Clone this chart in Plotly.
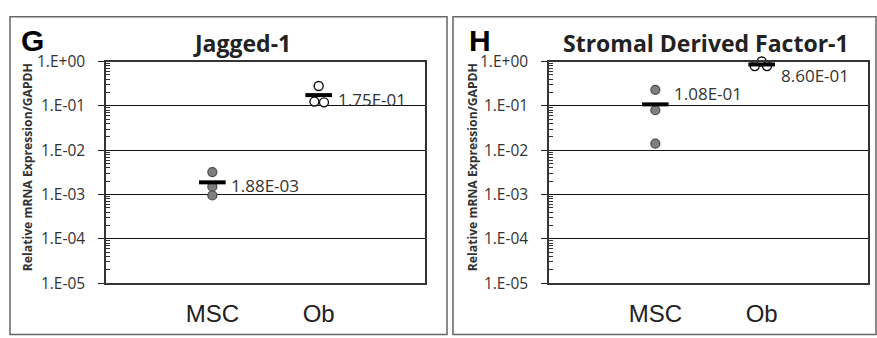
import numpy as np
import plotly.graph_objects as go

W, H = 877, 338

# ---- data ----
categories = ["MSC", "Ob"]

jag_msc = [3.2e-3, 1.5e-3, 9.5e-4]
jag_ob = [0.28, 0.125, 0.12]
jag_means = [1.88e-3, 1.75e-1]
jag_labels = ["1.88E-03", "1.75E-01"]

sdf_msc = [0.23, 0.08, 0.014]
sdf_ob = [1.0, 0.79, 0.79]
sdf_means = [1.08e-1, 8.60e-1]
sdf_labels = ["1.08E-01", "8.60E-01"]

tick_vals = [1e-5, 1e-4, 1e-3, 1e-2, 1e-1, 1e0]
tick_text = ["1.E-05", "1.E-04", "1.E-03", "1.E-02", "1.E-01", "1.E+00"]

# horizontal spread of replicate points inside a category (axis units)
jag_ob_dx = [0.0, -0.04, 0.05]
sdf_ob_dx = [0.0, -0.065, 0.05]

FONT = "Open Sans"


def px_x(p):
    return p / W


def px_y(p):
    return 1 - p / H


fig = go.Figure()

panels = [
    dict(xa="x", ya="y", msc=jag_msc, ob=jag_ob, ob_dx=jag_ob_dx,
         means=jag_means, labels=jag_labels,
         lbl_shift=[-3, -4]),
    dict(xa="x2", ya="y2", msc=sdf_msc, ob=sdf_ob, ob_dx=sdf_ob_dx,
         means=sdf_means, labels=sdf_labels,
         lbl_shift=[11, -11]),
]

for p in panels:
    # MSC replicates: filled grey
    fig.add_trace(go.Scatter(
        x=[1] * len(p["msc"]), y=p["msc"], mode="markers",
        xaxis=p["xa"], yaxis=p["ya"], cliponaxis=False,
        marker=dict(size=9, color="#7f7f7f",
                    line=dict(color="#4a4a4a", width=1.2)),
        showlegend=False))
    # Ob replicates: open circles
    fig.add_trace(go.Scatter(
        x=[2 + d for d in p["ob_dx"]], y=p["ob"], mode="markers",
        xaxis=p["xa"], yaxis=p["ya"], cliponaxis=False,
        marker=dict(size=9, color="white",
                    line=dict(color="#111111", width=1.4)),
        showlegend=False))
    # group means as short horizontal bars
    fig.add_trace(go.Scatter(
        x=[1, 2], y=p["means"], mode="markers",
        xaxis=p["xa"], yaxis=p["ya"], cliponaxis=False,
        marker=dict(symbol="line-ew", size=19,
                    line=dict(color="black", width=4)),
        showlegend=False))
    # value labels next to the means
    for i, (m, t) in enumerate(zip(p["means"], p["labels"])):
        fig.add_annotation(
            x=i + 1, y=np.log10(m), xref=p["xa"], yref=p["ya"],
            text=t, showarrow=False, xanchor="left", yanchor="middle",
            xshift=17, yshift=p["lbl_shift"][i],
            font=dict(family=FONT, size=17, color="#333333"))

y_dom = [px_y(290), px_y(53)]
minor_vals = [m * 10.0 ** e for e in range(-5, 0) for m in range(2, 10)]

yaxis_common = dict(
    type="log", range=[-5, 0], domain=y_dom,
    tickvals=tick_vals, ticktext=tick_text,
    tickfont=dict(family=FONT, size=15.5, color="#333333"),
    ticks="outside", ticklen=6, tickcolor="#222222", tickwidth=1.2,
    ticklabelstandoff=10,
    showgrid=True, gridcolor="#111111", gridwidth=1.2,
    showline=True, linecolor="#333333", linewidth=1.5, mirror=True,
    zeroline=False,
    minor=dict(tickvals=minor_vals, ticks="inside", ticklen=4,
               tickcolor="#333333", tickwidth=1, showgrid=False),
)
xaxis_common = dict(
    range=[0, 3], tickvals=[1, 2], ticktext=categories,
    tickfont=dict(family="Liberation Sans", size=24, color="#222222"),
    ticks="", showgrid=False, zeroline=False, ticklabelstandoff=8,
    showline=True, linecolor="#333333", linewidth=1.5, mirror=True,
)

fig.update_layout(
    width=W, height=H, margin=dict(l=0, r=0, t=0, b=0),
    paper_bgcolor="white", plot_bgcolor="white",
    xaxis=dict(domain=[px_x(106), px_x(425)], anchor="y", **xaxis_common),
    yaxis=dict(anchor="x", **yaxis_common),
    xaxis2=dict(domain=[px_x(549), px_x(868)], anchor="y2", **xaxis_common),
    yaxis2=dict(anchor="x2", **yaxis_common),
)

# panel frames
for x0, x1 in [(10, 447), (453, 876)]:
    fig.add_shape(type="rect", xref="paper", yref="paper",
                  x0=px_x(x0), x1=px_x(x1), y0=px_y(345), y1=px_y(5),
                  line=dict(color="#666666", width=1.5))

# panel letters, titles and y-axis titles
for letter, lx, title, tx, ytx in [("G", 32, "Jagged-1", 242, 27),
                                   ("H", 480, "Stromal Derived Factor-1", 706, 472)]:
    fig.add_annotation(x=px_x(lx), y=px_y(30), xref="paper", yref="paper",
                       xanchor="center", yanchor="middle",
                       text=f"<b>{letter}</b>", showarrow=False,
                       font=dict(family="Liberation Sans", size=30, color="black"))
    fig.add_annotation(x=px_x(tx), y=px_y(33), xref="paper", yref="paper",
                       xanchor="center", yanchor="middle",
                       text=f"<b>{title}</b>", showarrow=False,
                       font=dict(family=FONT, size=23, color="#222222"))
    fig.add_annotation(x=px_x(ytx), y=px_y(166), xref="paper", yref="paper",
                       xanchor="center", yanchor="middle",
                       text="<b>Relative mRNA Expression/GAPDH</b>",
                       showarrow=False, textangle=-90,
                       font=dict(family=FONT, size=12.2, color="#333333"))

fig.write_html("out.html")
